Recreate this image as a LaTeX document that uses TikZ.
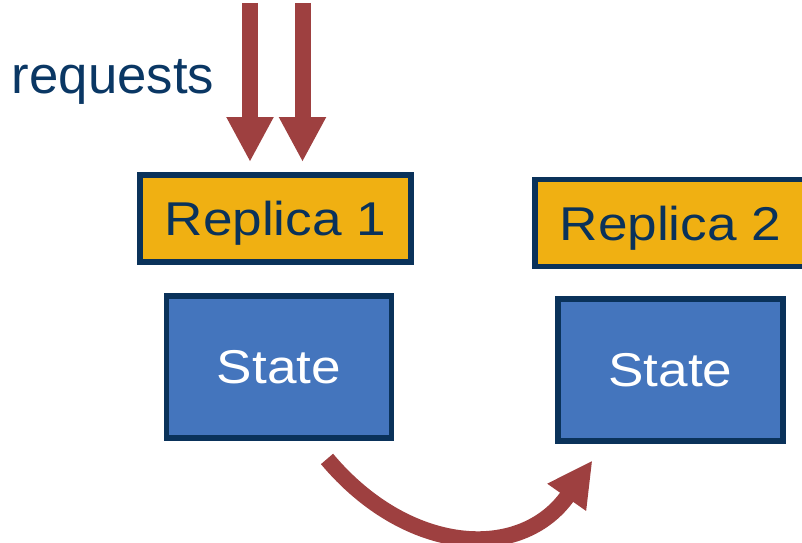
\documentclass[tikz,border=0pt]{standalone}
\usepackage{fontspec}
\setmainfont{Liberation Sans}[FakeStretch=1.12]
\newfontfamily\reqfont{Liberation Sans}
\usetikzlibrary{arrows.meta, positioning}

\definecolor{arrowred}{RGB}{158,64,64}
\definecolor{navy}{RGB}{10,50,90}
\definecolor{gold}{RGB}{240,176,18}
\definecolor{stateblue}{RGB}{68,117,189}

\begin{document}
\begin{tikzpicture}[
    replica/.style={rectangle, draw=navy, line width=3.4pt, fill=gold, text=navy,
                    minimum width=5.42cm, minimum height=1.74cm, text depth=0pt,
                    font=\fontsize{27}{32}\selectfont},
    statebox/.style={rectangle, draw=navy, line width=3.4pt, fill=stateblue, text=white,
                     minimum width=4.5cm, minimum height=2.84cm,
                     font=\fontsize{27}{32}\selectfont},
    reqarrow/.style={-{Triangle[length=0.9cm, width=0.88cm]}, line width=0.32cm, draw=arrowred},
    syncarrow/.style={-{Triangle[length=0.9cm, width=0.88cm]}, line width=0.32cm, draw=arrowred}
  ]
    \useasboundingbox (0,0) rectangle (16.04,10.86);

    \node[replica] (rep1) at (5.51,6.49) {Replica 1};
    \node[statebox, below=0.56cm of rep1, xshift=0.07cm] (st1) {State};
    \node[replica, right=2.36cm of rep1, yshift=-0.09cm] (rep2) {Replica 2};
    \node[statebox, below=0.54cm of rep2] (st2) {State};

    \node[anchor=base, text={rgb,255:red,10;green,55;blue,100}, font=\reqfont\fontsize{30}{36}\selectfont]
      (req) at (2.26,8.98) {requests};

    % incoming requests
    \coordinate (in1) at (5.00,10.80);
    \coordinate (in2) at (6.05,10.80);
    \draw[reqarrow, shorten >=0.2cm] (in1) -- (in1 |- rep1.north);
    \draw[reqarrow, shorten >=0.2cm] (in2) -- (in2 |- rep1.north);

    % state transfer
    \draw[syncarrow] ([shift={(0.96,-0.36)}]st1.south)
      to[out=-50, in=-125, looseness=1.2] ([shift={(-1.56,-0.32)}]st2.south);
  \end{tikzpicture}
\end{document}
